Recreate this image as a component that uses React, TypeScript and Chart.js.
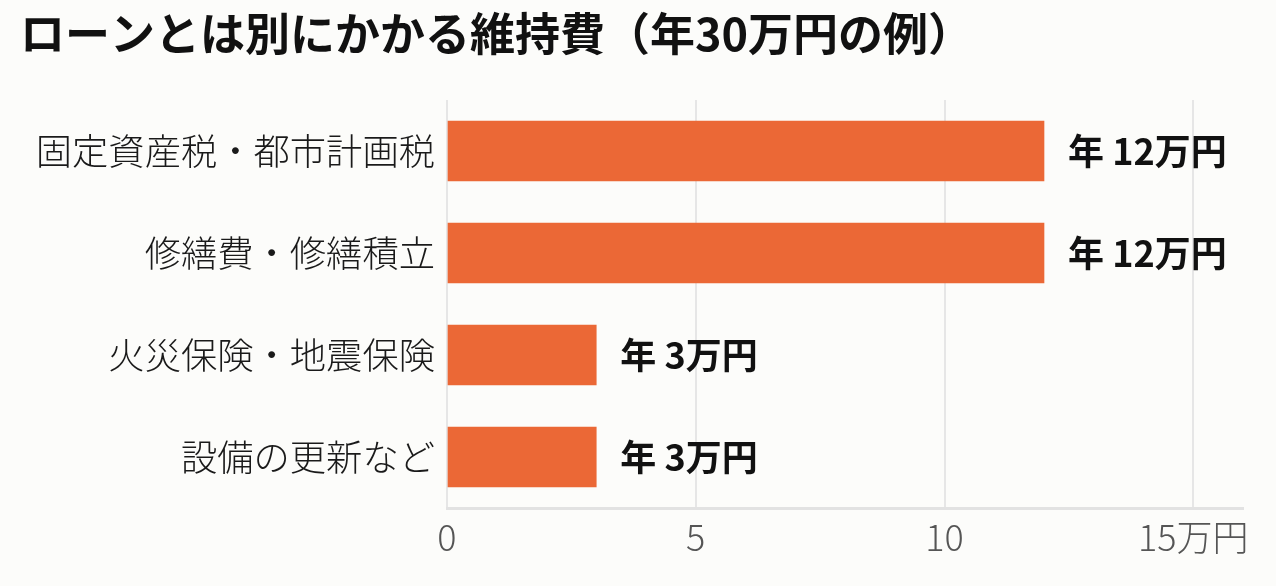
import { useEffect, useRef } from "react"
import { Chart, registerables } from "chart.js"

Chart.register(...registerables)

const categories = ["固定資産税・都市計画税", "修繕費・修繕積立", "火災保険・地震保険", "設備の更新など"]
const costs = [12, 12, 3, 3]
const tickValues = [0, 5, 10, 15]
const unit = "万円"

const FONT = "'Noto Sans CJK JP', 'Noto Sans', sans-serif"

// 棒の右に「年 ○万円」を描く
const valueLabels = {
  id: "valueLabels",
  afterDatasetsDraw(chart: Chart) {
    const { ctx } = chart
    const meta = chart.getDatasetMeta(0)
    ctx.save()
    ctx.font = `bold 36px ${FONT}`
    ctx.fillStyle = "#111111"
    ctx.textAlign = "left"
    ctx.textBaseline = "middle"
    meta.data.forEach((bar: any, i: number) => {
      ctx.fillText(`年 ${costs[i]}${unit}`, bar.x + 24, bar.y)
    })
    ctx.restore()
  },
}

export default function App() {
  const chartRef = useRef<HTMLCanvasElement>(null)
  const chartInstance = useRef<Chart | null>(null)

  useEffect(() => {
    if (!chartRef.current) return
    if (chartInstance.current) chartInstance.current.destroy()
    const ctx = chartRef.current.getContext("2d")
    if (!ctx) return

    chartInstance.current = new Chart(ctx, {
      type: "bar",
      data: {
        labels: categories,
        datasets: [
          {
            data: costs,
            backgroundColor: "#EB6836",
            barThickness: 60,
          },
        ],
      },
      options: {
        indexAxis: "y",
        responsive: true,
        maintainAspectRatio: false,
        animation: false,
        layout: { padding: { left: 20, right: 33, top: 0, bottom: 0 } },
        plugins: {
          legend: { display: false },
          tooltip: { enabled: false },
          title: {
            display: true,
            text: "ローンとは別にかかる維持費（年30万円の例）",
            align: "start",
            color: "#111111",
            font: { family: FONT, size: 45, weight: "bold", lineHeight: 1.2 },
            padding: { top: 7, bottom: 39 },
          },
        },
        scales: {
          x: {
            min: 0,
            max: 16,
            afterBuildTicks: (axis: any) => {
              axis.ticks = tickValues.map((v) => ({ value: v }))
            },
            afterFit: (axis: any) => {
              axis.height = 78
            },
            grid: { color: "#E6E6E6", lineWidth: 2, drawTicks: false },
            border: { display: true, color: "#E2E2E2", width: 3 },
            ticks: {
              padding: 8,
              color: "#555555",
              font: { family: FONT, size: 36, weight: 300 },
              maxRotation: 0,
              callback: (v: any) => (v === 15 ? `${v}${unit}` : `${v}`),
            },
          },
          y: {
            afterFit: (axis: any) => {
              axis.width = 427
            },
            grid: { display: false, drawTicks: false },
            border: { display: false },
            ticks: {
              padding: 12,
              color: "#1A1A1A",
              font: { family: FONT, size: 36.3, weight: 300 },
            },
          },
        },
      },
      plugins: [valueLabels],
    })

    return () => {
      if (chartInstance.current) chartInstance.current.destroy()
    }
  }, [])

  return (
    <div style={{ position: "fixed", left: 0, top: 0, width: 1276, height: 586, background: "#FCFCFA" }}>
      <canvas ref={chartRef} />
    </div>
  )
}
